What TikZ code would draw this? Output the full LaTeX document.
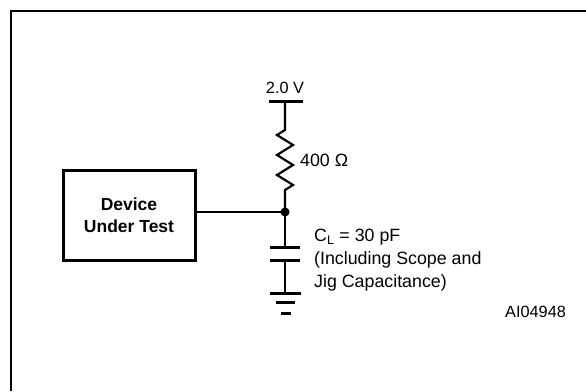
\documentclass[tikz,border=0pt]{standalone}
\usepackage{fontspec}
\setmainfont{Liberation Sans}

\begin{document}
\begin{tikzpicture}[x=1pt,y=-1pt]

\tikzset{
  Wire/.style = {line width=2.2pt},
  Plate/.style = {line width=3pt},
  Lbl/.style = {inner sep=0pt, font=\fontsize{17.8}{23}\selectfont},
  SmallLbl/.style = {inner sep=0pt, font=\fontsize{16.3}{20}\selectfont},
  BoxStyle/.style = {draw, line width=3pt, minimum width=132pt,
                     minimum height=90pt, align=center,
                     font=\bfseries\fontsize{17.5}{22}\selectfont} }
  \useasboundingbox (0,0) rectangle (586,391);

  % frame
  \draw[line width=2.8pt] (11,391) -- (11,11) -- (586,11);

  % circuit points
  \coordinate (vcc)  at (285,101);
  \coordinate (rtop) at (285,130);
  \coordinate (rbot) at (285,190);
  \coordinate (jn)   at (285,212);
  \coordinate (ctop) at (285,247);
  \coordinate (cbot) at (285,260);
  \coordinate (gnd)  at (285,293);

  \node[BoxStyle] (dut) at (129,215) {Device\\Under Test};

  % supply and resistor
  \draw[Plate] ([xshift=-16pt]vcc) -- ([xshift=18pt]vcc);
  \draw[Wire,line join=miter] (vcc) -- (rtop) -- ++(-8,5) -- ++(16,10) -- ++(-16,10)
    -- ++(16,10) -- ++(-16,10) -- ++(16,10) -- ++(-8,5) -- (jn);
  \node[SmallLbl,anchor=base] (vlbl) at (285,93) {2.0 V};
  \node[Lbl,anchor=base west] (rlbl) at (300,166) {400 Ω};

  % junction
  \draw[Wire] (dut.east |- jn) -- (jn);
  \fill (jn) circle (4.5pt);

  % load capacitor and ground
  \draw[Wire] (jn) -- (ctop);
  \draw[Plate] ([xshift=-15pt]ctop) -- ([xshift=15pt]ctop);
  \draw[Plate] ([xshift=-15pt]cbot) -- ([xshift=15pt]cbot);
  \draw[Wire] (cbot) -- (gnd);
  \draw[Plate] ([xshift=-15pt]gnd) -- ([xshift=16pt]gnd);
  \draw[Plate] ([xshift=-9pt,yshift=-9pt]gnd) -- ([xshift=10pt,yshift=-9pt]gnd);
  \draw[Plate] ([xshift=-4pt,yshift=-20pt]gnd) -- ([xshift=6pt,yshift=-20pt]gnd);

  \node[Lbl,anchor=north west,align=left] (clbl) at (314,229)
    {C\textsubscript{L} = 30 pF\\(Including Scope and\\Jig Capacitance)};

  \node[SmallLbl,anchor=base west] (fig) at (505,317) {AI04948};

\end{tikzpicture}
\end{document}
